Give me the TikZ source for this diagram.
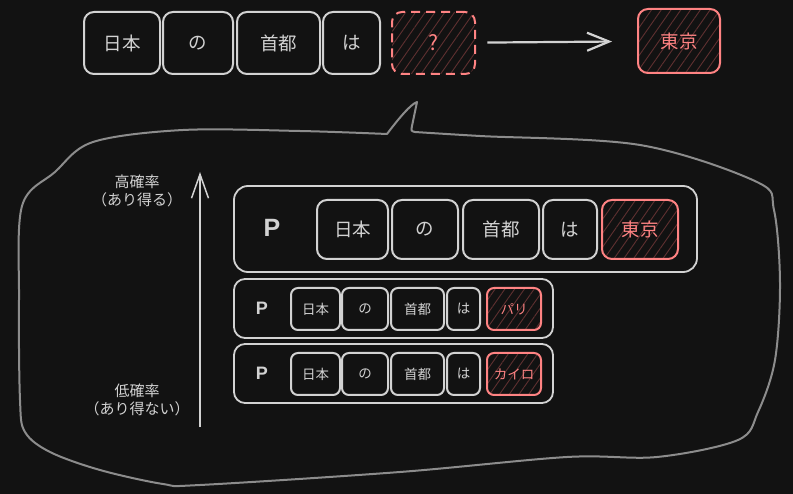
\documentclass[tikz,border=0pt]{standalone}
\usepackage{fontspec}
\setmainfont{Noto Sans CJK JP}
\newfontfamily\pfont{Liberation Sans}
\usetikzlibrary{arrows.meta,patterns.meta}
\definecolor{bg}{HTML}{121212}
\definecolor{fg}{HTML}{D2D2D2}
\definecolor{hl}{HTML}{FF8383}
\definecolor{hatch}{HTML}{5E3030}
\definecolor{cloud}{HTML}{8C8C8C}
\tikzset{token/.style={ % one word of the sentence
            draw=fg, line width=2pt,
            rounded corners=10pt,
            text=fg, inner sep=0pt,
            font=\fontsize{18.5}{22}\selectfont},
        small token/.style={ % words in the lower candidates
            token, rounded corners=7pt,
            minimum height=42pt,
            font=\fontsize{13.5}{16}\selectfont},
        answer/.style={ % the predicted word
            draw=hl, text=hl,
            pattern={Lines[angle=55,distance=8pt,line width=0.9pt]},
            pattern color=hatch},
        row/.style={draw=fg, line width=1.8pt, rounded corners=14pt, inner sep=0pt},
        prompt/.style={text=fg, inner sep=0pt, font=\pfont\bfseries},
        side label/.style={text=fg, align=center, font=\fontsize{15}{18}\selectfont},
        flow/.style={ % open arrows
            draw=fg, line width=2.2pt,
            -{Straight Barb[length=22pt,width=18pt]}},
        bubble/.style={draw=cloud, line width=2pt, line join=round}
        }
\begin{document}
\begin{tikzpicture}[x=1pt, y=-1pt]
    \fill[bg] (0,0) rectangle (793,494);
    \useasboundingbox (0,0) rectangle (793,494);

    % question
    \node[token, minimum width=76pt, minimum height=62pt] (q1) at (122,43)   {日本};
    \node[token, minimum width=70pt, minimum height=62pt] (q2) at (198,43)   {の};
    \node[token, minimum width=83pt, minimum height=62pt] (q3) at (278.5,43) {首都};
    \node[token, minimum width=57pt, minimum height=62pt] (q4) at (351.5,43) {は};
    \node[token, answer, dash pattern=on 9pt off 6pt, font=\fontsize{21}{22}\selectfont,
          minimum width=83pt, minimum height=62pt]        (ask) at (433.5,43) {?};
    \node[token, answer, minimum width=82pt, minimum height=64pt] (tokyo) at (679,41) {東京};
    \draw[flow, shorten <=12pt, shorten >=25pt] (ask) -- (tokyo);

    % thought bubble
    \draw[bubble] (387,134) .. controls (399,118) and (411,104) .. (417,102)
        -- (412,126) .. controls (411,131) .. (415,132)
        -- plot[smooth, tension=0.55] coordinates {(415,132) (480,136) (640,145)
            (757,182) (774,210) (780,283) (775,360) (758,412) (738,440) (657,457)
            (567,457) (400,472) (200,485) (163,484) (100,470) (50,452) (25,432)
            (20,400) (19,300) (22,206) (55,172) (93,142) (183,130) (300,131) (387,134)} -- cycle;

    % probability axis
    \coordinate (low)  at (200,427);
    \coordinate (high) at (200,172);
    \draw[flow, line width=1.5pt, -{Straight Barb[length=24pt,width=17pt]}] (low) -- (high);
    \node[side label] (hi) at (137,191) {高確率\\（あり得る）};
    \node[side label] (lo) at (137,400) {低確率\\（あり得ない）};

    % most likely continuation
    \node[row, minimum width=463pt, minimum height=86pt] (row1) at (465.5,229) {};
    \node[prompt, font=\pfont\bfseries\fontsize{25}{25}\selectfont] (p1) at (272,228) {P};
    \node[token, minimum width=71pt, minimum height=59pt] (a1) at (352.5,229.5) {日本};
    \node[token, minimum width=66pt, minimum height=59pt] (a2) at (425,229.5)   {の};
    \node[token, minimum width=76pt, minimum height=59pt] (a3) at (501,229.5)   {首都};
    \node[token, minimum width=54pt, minimum height=59pt] (a4) at (570,229.5)   {は};
    \node[token, answer, minimum width=76pt, minimum height=59pt] (a5) at (640,229.5) {東京};

    % less likely continuations
    \node[row, rounded corners=11pt, minimum width=319pt, minimum height=59pt] (row2) at (393.5,308.5) {};
    \node[prompt, font=\pfont\bfseries\fontsize{18}{18}\selectfont] (p2) at (262,308) {P};
    \node[small token, minimum width=49pt] (b1) at (315.5,309) {日本};
    \node[small token, minimum width=46pt] (b2) at (365,309)   {の};
    \node[small token, minimum width=53pt] (b3) at (417.5,309) {首都};
    \node[small token, minimum width=33pt] (b4) at (463.5,309) {は};
    \node[small token, answer, minimum width=54pt] (b5) at (514,309) {パリ};

    \node[row, rounded corners=11pt, minimum width=319pt, minimum height=59pt] (row3) at (393.5,373.5) {};
    \node[prompt, font=\pfont\bfseries\fontsize{18}{18}\selectfont] (p3) at (262,373) {P};
    \node[small token, minimum width=49pt] (c1) at (315.5,374) {日本};
    \node[small token, minimum width=46pt] (c2) at (365,374)   {の};
    \node[small token, minimum width=53pt] (c3) at (417.5,374) {首都};
    \node[small token, minimum width=33pt] (c4) at (463.5,374) {は};
    \node[small token, answer, minimum width=54pt] (c5) at (514,374) {カイロ};
\end{tikzpicture}
\end{document}
